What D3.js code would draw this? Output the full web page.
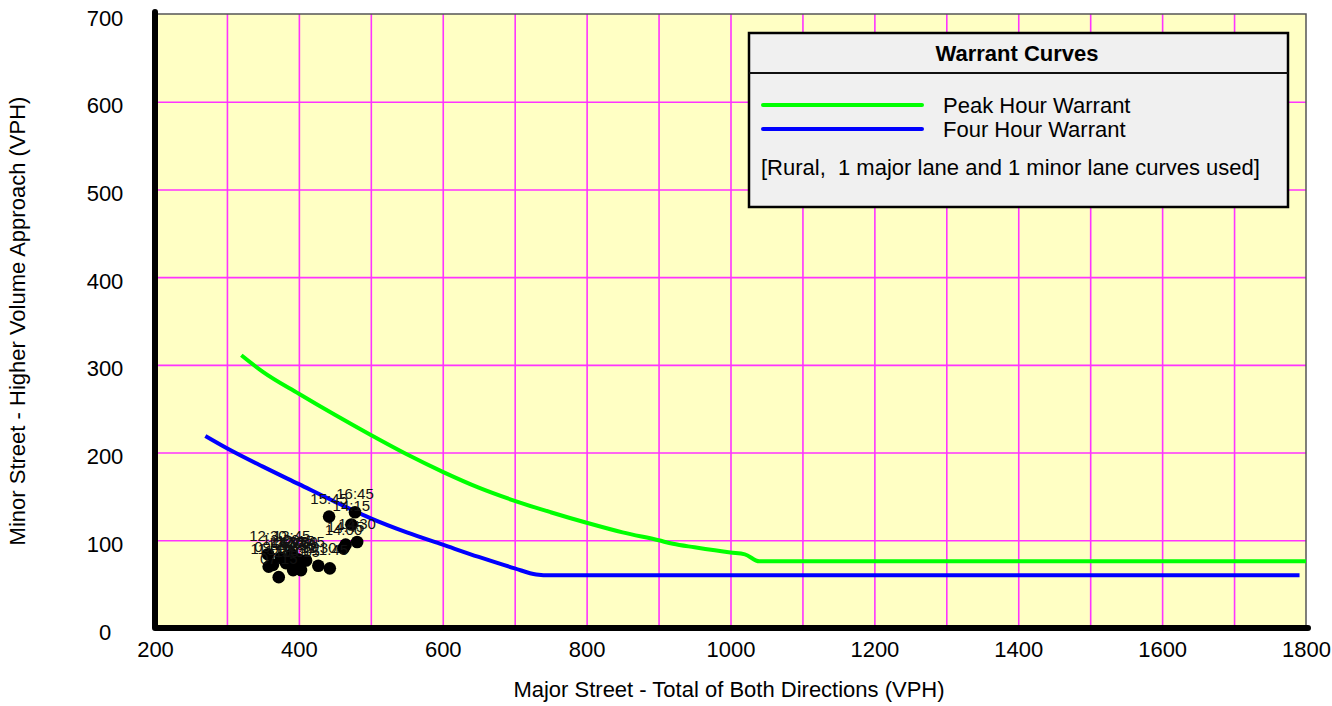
<!DOCTYPE html>
<html>
<head>
<meta charset="utf-8">
<script src="https://cdn.jsdelivr.net/npm/d3@7"></script>
<style>
  body { margin: 0; background: #fff; }
  svg { display: block; font-family: "Liberation Sans", Arial, sans-serif; }
</style>
</head>
<body>
<svg id="chart" width="1332" height="706"></svg>
<script>
// warrant curves (major street vph, minor street vph)
var peakHourCurve = [
  [320, 311], [350, 292], [400, 267], [450, 243], [500, 220], [550, 198],
  [600, 178], [650, 160], [700, 145], [750, 132], [800, 120], [850, 109],
  [900, 100], [920, 96], [950, 92], [1000, 86], [1020, 84], [1040, 76], [1800, 76]
];
var fourHourCurve = [
  [270, 219], [300, 205], [350, 184], [400, 164], [450, 144],
  [500, 125], [550, 109], [600, 95], [650, 81], [700, 68], [730, 61], [750, 60], [1791, 60]
];

// observed hourly volumes: label, major, minor
var countTimes = ["12:00", "12:15", "13:00", "12:45", "13:15", "13:30", "10:00", "10:15",
  "10:30", "10:45", "11:15", "11:30", "11:45", "07:15", "09:45", "11:00", "12:30", "13:45",
  "14:00", "14:45", "14:30", "14:15", "15:45", "16:45"];
var majorVolumes = [375, 395, 400, 382, 388, 402, 392, 403, 398, 410, 385, 427, 443,
  372, 364, 358, 357, 390, 462, 465, 481, 473, 442, 478];
var minorVolumes = [80, 79, 78, 74, 76, 72, 66, 66, 74, 77, 78, 71, 68,
  58, 72, 70, 84, 84, 91, 95, 98, 118, 127, 132];

var xTicks = [200, 400, 600, 800, 1000, 1200, 1400, 1600, 1800];
var yTicks = [0, 100, 200, 300, 400, 500, 600, 700];
var legendItems = ["Peak Hour Warrant", "Four Hour Warrant"];

var svg = d3.select("#chart");
var pLeft = 155, pRight = 1306, pTop = 14, pBottom = 628;

var x = d3.scaleLinear().domain([200, 1800]).range([pLeft, pRight]);
var y = d3.scaleLinear().domain([0, 700]).range([pBottom, pTop]);

// plot background
svg.append("rect")
  .attr("x", pLeft).attr("y", pTop)
  .attr("width", pRight - pLeft).attr("height", pBottom - pTop)
  .attr("fill", "#ffffc4");

// grid
svg.append("g")
  .attr("transform", "translate(0," + pBottom + ")")
  .call(d3.axisBottom(x).tickValues(d3.range(300, 1800, 100)).tickSize(-(pBottom - pTop)).tickFormat(""))
  .call(function(g) {
    g.select(".domain").remove();
    g.selectAll("line").attr("stroke", "#ff33ff").attr("stroke-width", 1.6);
  });
svg.append("g")
  .attr("transform", "translate(" + pLeft + ",0)")
  .call(d3.axisLeft(y).tickValues(d3.range(100, 700, 100)).tickSize(-(pRight - pLeft)).tickFormat(""))
  .call(function(g) {
    g.select(".domain").remove();
    g.selectAll("line").attr("stroke", "#ff33ff").attr("stroke-width", 1.6);
  });

// top and right border
svg.append("path")
  .attr("d", "M" + pLeft + "," + pTop + "H" + pRight + "V" + pBottom)
  .attr("fill", "none").attr("stroke", "#555").attr("stroke-width", 1.5);

// tick labels
svg.append("g")
  .attr("transform", "translate(0," + pBottom + ")")
  .call(d3.axisBottom(x).tickValues(xTicks).tickSize(0).tickPadding(0).tickFormat(d3.format("d")))
  .call(function(g) {
    g.select(".domain").remove();
    g.selectAll("text").attr("y", 29).attr("dy", null)
      .attr("font-size", 22).attr("font-family", "Liberation Sans, Arial, sans-serif").attr("fill", "#000");
  });
svg.append("g")
  .attr("transform", "translate(" + pLeft + ",0)")
  .call(d3.axisLeft(y).tickValues(yTicks).tickSize(0).tickFormat(d3.format("d")))
  .call(function(g) {
    g.select(".domain").remove();
    g.selectAll("text").attr("x", -50).attr("dy", null).attr("y", 11)
      .attr("text-anchor", "middle")
      .attr("font-size", 22).attr("font-family", "Liberation Sans, Arial, sans-serif").attr("fill", "#000");
  });

// thick axis lines
svg.append("path")
  .attr("d", "M" + pLeft + "," + (pTop - 2) + "V" + pBottom + "H" + (pRight + 2))
  .attr("fill", "none").attr("stroke", "#000").attr("stroke-width", 6)
  .attr("stroke-linecap", "round").attr("stroke-linejoin", "round");

// curves
var line = d3.line()
  .x(function(d) { return x(d[0]); })
  .y(function(d) { return y(d[1]); })
  .curve(d3.curveMonotoneX);
svg.append("path").datum(peakHourCurve)
  .attr("d", line).attr("fill", "none").attr("stroke", "#00ff00").attr("stroke-width", 4);
svg.append("path").datum(fourHourCurve)
  .attr("d", line).attr("fill", "none").attr("stroke", "#0000ff").attr("stroke-width", 4);

// data points
var pts = countTimes.map(function(t, i) { return {t: t, x: majorVolumes[i], y: minorVolumes[i]}; });
svg.append("g").selectAll("circle").data(pts).enter().append("circle")
  .attr("cx", function(d) { return x(d.x); })
  .attr("cy", function(d) { return y(d.y); })
  .attr("r", 6.3).attr("fill", "#000");
svg.append("g").selectAll("text").data(pts).enter().append("text")
  .attr("x", function(d) { return x(d.x); })
  .attr("y", function(d) { return y(d.y) - 13; })
  .attr("text-anchor", "middle").attr("font-size", 15).attr("fill", "#111")
  .text(function(d) { return d.t; });

// axis titles
svg.append("text")
  .attr("x", 729).attr("y", 697)
  .attr("text-anchor", "middle").attr("font-size", 22)
  .text("Major Street - Total of Both Directions (VPH)");
svg.append("text")
  .attr("transform", "translate(25,321) rotate(-90)")
  .attr("text-anchor", "middle").attr("font-size", 22)
  .text("Minor Street - Higher Volume Approach (VPH)");

// legend
var lg = svg.append("g").attr("transform", "translate(749,33)");
lg.append("rect").attr("width", 539).attr("height", 174)
  .attr("fill", "#f0f0f0").attr("stroke", "#000").attr("stroke-width", 2.5);
lg.append("line").attr("x1", 0).attr("x2", 539).attr("y1", 40).attr("y2", 40)
  .attr("stroke", "#111").attr("stroke-width", 2);
lg.append("text").attr("x", 268).attr("y", 28).attr("text-anchor", "middle")
  .attr("font-size", 22).attr("font-weight", "bold").text("Warrant Curves");
var legendColors = ["#00ff00", "#0000ff"];
legendItems.forEach(function(name, i) {
  lg.append("line").attr("x1", 14).attr("x2", 173)
    .attr("y1", 72 + i * 24).attr("y2", 72 + i * 24)
    .attr("stroke", legendColors[i]).attr("stroke-width", 4).attr("stroke-linecap", "round");
  lg.append("text").attr("x", 194).attr("y", 80 + i * 24).attr("font-size", 22).text(name);
});
lg.append("text").attr("x", 12).attr("y", 142).attr("font-size", 22)
  .style("white-space", "pre")
  .text("[Rural,  1 major lane and 1 minor lane curves used]");
</script>
</body>
</html>
